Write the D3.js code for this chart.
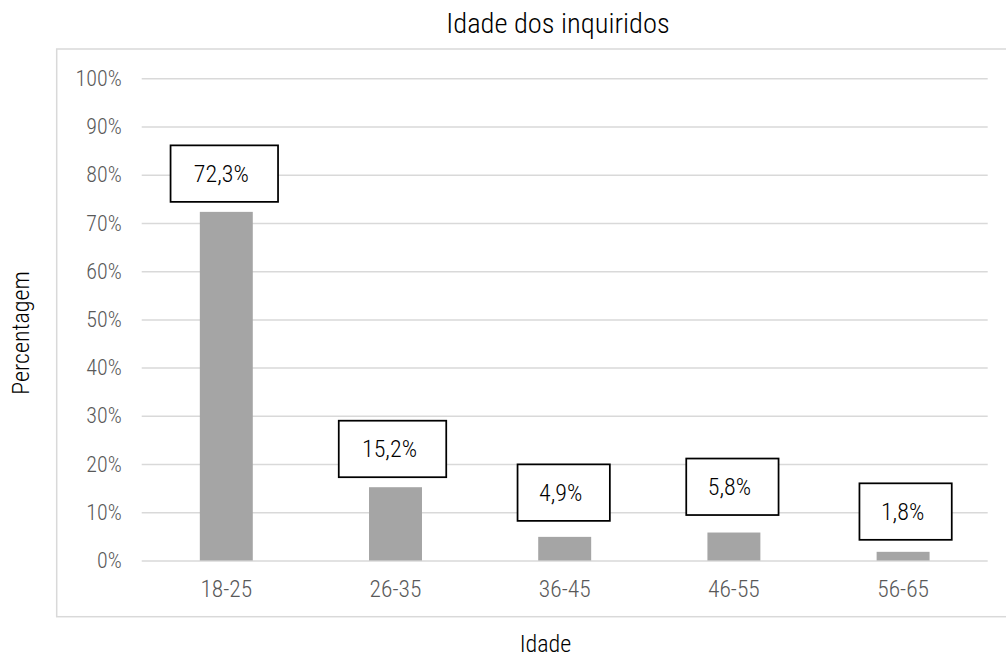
<!DOCTYPE html>
<html>
<head>
<meta charset="utf-8">
<script src="https://cdn.jsdelivr.net/npm/d3@7"></script>
<style>
  html, body { margin: 0; padding: 0; background: #fff; }
  svg { display: block; }
  text { font-family: "Roboto Condensed", "DejaVu Sans Condensed", sans-serif; font-weight: 300; }
</style>
</head>
<body>
<svg id="chart" width="1006" height="658"></svg>
<script>
// Age groups of the respondents and their share (%)
const categories = ["18-25", "26-35", "36-45", "46-55", "56-65"];
const values = [72.3, 15.2, 4.9, 5.8, 1.8];
const yTicks = [0, 10, 20, 30, 40, 50, 60, 70, 80, 90, 100];

const titleText = "Idade dos inquiridos";
const xTitle = "Idade";
const yTitle = "Percentagem";

// Hand-placed data label boxes: horizontal shift and gap above the bar
const labelNudge = [
  { dx: -2, gap: 10 },
  { dx: -3, gap: 10 },
  { dx: -1, gap: 16 },
  { dx: -1.5, gap: 17.5 },
  { dx: 2.5, gap: 12 }
];

const svg = d3.select("#chart");

const plot = { left: 141.7, right: 987.7, top: 78.3, bottom: 560.5 };

const x = d3.scaleBand()
  .domain(categories)
  .range([plot.left, plot.right])
  .paddingInner(0.687)
  .paddingOuter(0.3435);

const y = d3.scaleLinear()
  .domain([0, 100])
  .range([plot.bottom, plot.top]);

const ptFormat = d3.formatLocale({ decimal: ",", thousands: ".", grouping: [3], currency: ["", "€"] }).format(".1f");

// Chart area frame
svg.append("rect")
  .attr("x", 56.7).attr("y", 49)
  .attr("width", 1000).attr("height", 567.7)
  .attr("fill", "none")
  .attr("stroke", "#d9d9d9")
  .attr("stroke-width", 1.5);

// Title
svg.append("text")
  .attr("x", 558).attr("y", 33)
  .attr("text-anchor", "middle")
  .attr("font-size", 28.5)
  .attr("fill", "#000")
  .text(titleText);

// Horizontal gridlines and y tick labels
const yAxis = svg.append("g")
  .attr("transform", `translate(${plot.left},0)`)
  .call(d3.axisLeft(y)
    .tickValues(yTicks)
    .tickSize(-(plot.right - plot.left))
    .tickPadding(20)
    .tickFormat(d => d + "%"));
yAxis.select(".domain").remove();
yAxis.selectAll(".tick line")
  .attr("stroke", "#d9d9d9")
  .attr("stroke-width", 1.5);
yAxis.selectAll(".tick text")
  .attr("fill", "#595959")
  .attr("font-size", 22)
  .attr("font-family", null);

// Bars
svg.append("g")
  .selectAll("rect")
  .data(values)
  .join("rect")
  .attr("x", (d, i) => x(categories[i]))
  .attr("y", d => y(d))
  .attr("width", x.bandwidth())
  .attr("height", d => y(0) - y(d))
  .attr("fill", "#a5a5a5");

// Category labels
const xAxis = svg.append("g")
  .attr("transform", `translate(0,${plot.bottom})`)
  .call(d3.axisBottom(x).tickSize(0).tickPadding(0));
xAxis.select(".domain").remove();
xAxis.selectAll(".tick text")
  .attr("fill", "#595959")
  .attr("font-size", 23.5)
  .attr("font-family", null)
  .attr("dy", null)
  .attr("y", 36);

// Boxed data labels
const boxH = 56.5;
const labels = svg.append("g")
  .selectAll("g")
  .data(values)
  .join("g")
  .attr("transform", (d, i) => {
    const cx = x(categories[i]) + x.bandwidth() / 2 + labelNudge[i].dx;
    const bottom = y(d) - labelNudge[i].gap;
    return `translate(${cx},${bottom - boxH / 2})`;
  });

labels.append("rect").attr("class", "box");
labels.append("text")
  .attr("text-anchor", "middle")
  .attr("x", -3)
  .attr("y", 8.5)
  .attr("font-size", 24)
  .attr("fill", "#000")
  .text(d => ptFormat(d) + "%");

labels.each(function () {
  const g = d3.select(this);
  const w = g.select("text").node().getComputedTextLength() * 1.3 + 36;
  g.select("rect.box")
    .attr("x", -w / 2).attr("y", -boxH / 2)
    .attr("width", w).attr("height", boxH)
    .attr("fill", "#fff")
    .attr("stroke", "#000")
    .attr("stroke-width", 1.75);
});

// Axis titles
svg.append("text")
  .attr("x", 545.5).attr("y", 652)
  .attr("text-anchor", "middle")
  .attr("font-size", 24)
  .attr("fill", "#000")
  .text(xTitle);

svg.append("text")
  .attr("transform", "translate(29,333) rotate(-90)")
  .attr("text-anchor", "middle")
  .attr("font-size", 24)
  .attr("fill", "#000")
  .text(yTitle);
</script>
</body>
</html>
